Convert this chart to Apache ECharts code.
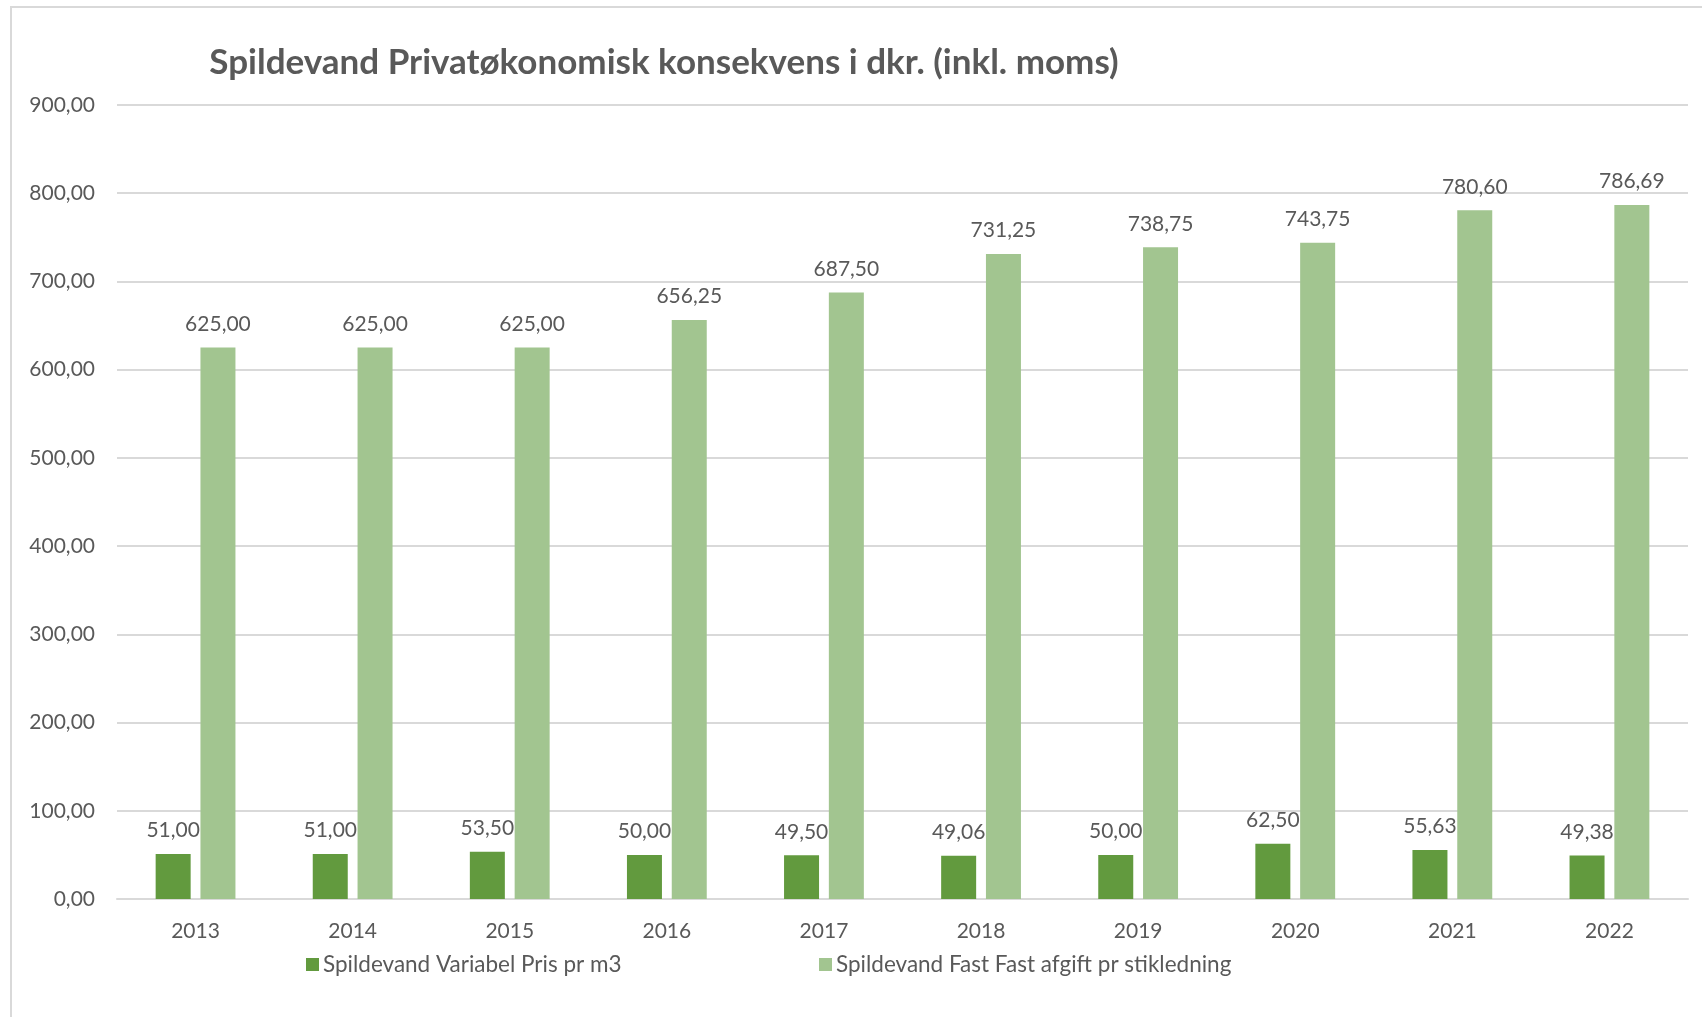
<!DOCTYPE html>
<html>
<head>
<meta charset="utf-8">
<script src="https://cdn.jsdelivr.net/npm/echarts@6/dist/echarts.min.js"></script>
<style>
html,body{margin:0;padding:0;background:#fff;}
#chart{width:1702px;height:1017px;}
</style>
</head>
<body>
<div id="chart"></div>
<script>
const titleText = 'Spildevand Privatøkonomisk konsekvens i dkr. (inkl. moms)';
const categories = ['2013','2014','2015','2016','2017','2018','2019','2020','2021','2022'];
const seriesNames = ['Spildevand Variabel Pris pr m3', 'Spildevand Fast Fast afgift pr stikledning'];
const variabelPris = [51.00, 51.00, 53.50, 50.00, 49.50, 49.06, 50.00, 62.50, 55.63, 49.38];
const fastAfgift = [625.00, 625.00, 625.00, 656.25, 687.50, 731.25, 738.75, 743.75, 780.60, 786.69];
const yTicks = [0, 100, 200, 300, 400, 500, 600, 700, 800, 900];

const FONT = 'Lato';
const TEXT = '#595959';
const fmt = v => Number(v).toFixed(2).replace('.', ',');

const chart = echarts.init(document.getElementById('chart'), null, {renderer: 'canvas'});
chart.setOption({
  backgroundColor: '#ffffff',
  animation: false,
  textStyle: {fontFamily: FONT},
  graphic: [{
    type: 'rect',
    shape: {x: 11, y: 7, width: 1720, height: 1040},
    style: {fill: 'none', stroke: '#D9D9D9', lineWidth: 2},
    silent: true
  }],
  title: {
    text: titleText,
    left: 664, top: 45,
    textAlign: 'center',
    padding: 0,
    textStyle: {fontFamily: FONT, fontSize: 35, fontWeight: 'bold', color: TEXT}
  },
  legend: [{
    data: [seriesNames[0]],
    left: 306, top: 953,
    padding: 0,
    itemWidth: 13, itemHeight: 13, itemGap: 4,
    icon: 'rect',
    textStyle: {fontFamily: FONT, fontSize: 22.5, color: TEXT, padding: [0,0,0,-1]}
  },{
    data: [seriesNames[1]],
    left: 819, top: 953,
    padding: 0,
    itemWidth: 13, itemHeight: 13, itemGap: 4,
    icon: 'rect',
    textStyle: {fontFamily: FONT, fontSize: 22.5, color: TEXT, padding: [0,0,0,-1]}
  }],
  grid: {left: 117, right: 14, top: 105, bottom: 118},
  xAxis: {
    type: 'category',
    data: categories,
    axisLine: {lineStyle: {color: '#D9D9D9', width: 2}},
    axisTick: {show: false},
    axisLabel: {fontFamily: FONT, fontSize: 21, color: TEXT, margin: 22}
  },
  yAxis: {
    type: 'value',
    min: yTicks[0], max: yTicks[yTicks.length-1], interval: 100,
    axisLine: {show: false},
    axisTick: {show: false},
    splitLine: {lineStyle: {color: '#D9D9D9', width: 2}},
    axisLabel: {fontFamily: FONT, fontSize: 21, color: TEXT, margin: 22, formatter: fmt}
  },
  series: [{
    name: seriesNames[0],
    type: 'bar',
    data: variabelPris,
    barWidth: 35,
    barGap: '28%',
    itemStyle: {color: '#629A3E'},
    label: {show: true, position: 'top', distance: 13, fontFamily: FONT, fontSize: 21, color: TEXT, formatter: p => fmt(p.value)}
  },{
    name: seriesNames[1],
    type: 'bar',
    data: fastAfgift,
    barWidth: 35,
    barGap: '28%',
    itemStyle: {color: '#A2C590'},
    label: {show: true, position: 'top', distance: 13, fontFamily: FONT, fontSize: 21, color: TEXT, formatter: p => fmt(p.value)}
  }]
});
</script>
</body>
</html>
